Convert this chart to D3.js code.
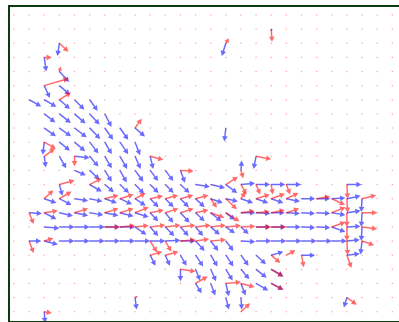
<!DOCTYPE html>
<html>
<head>
<meta charset="utf-8">
<script src="https://cdn.jsdelivr.net/npm/d3@7"></script>
<style>
  body { margin: 0; background: #fff; }
  svg { display: block; }
</style>
</head>
<body>
<svg id="chart" width="399" height="322"></svg>
<script>
// grid size (columns x rows of sample points)
const gridCols = d3.range(0, 26);
const gridRows = d3.range(0, 22);

// vectors as [col, row, u, v] in grid units (v points down)
const blueArrows = [
  [17, 1, 0.05, 0.15],
  [3, 2, -0.13, 0.9], [14, 2, -0.27, 0.9],
  [2, 3, 0.13, 1.0],
  [3, 4, 0.65, 0.75],
  [2, 5, 0.37, 0.87], [3, 5, 0.7, 0.64],
  [1, 6, 0.8, 0.47], [2, 6, 0.8, 0.5], [3, 6, 0.7, 0.65], [4, 6, 0.65, 0.7], [5, 6, 0.53, 0.78],
  [2, 7, 0.73, 0.6], [3, 7, 0.75, 0.64], [4, 7, 0.73, 0.68], [5, 7, 0.66, 0.75], [6, 7, 0.44, 0.92],
  [2, 8, 0.77, 0.59], [3, 8, 0.77, 0.59], [4, 8, 0.8, 0.66], [5, 8, 0.7, 0.78], [6, 8, 0.55, 0.83],
  [7, 8, 0.55, 0.83], [8, 8, 0.66, 0.6], [14, 8, -0.1, 0.95],
  [2, 9, -0.1, 0.9], [3, 9, 0.7, 0.6], [4, 9, 0.7, 0.65], [5, 9, 0.58, 0.8], [6, 9, 0.46, 0.85],
  [7, 9, 0.55, 0.85], [8, 9, 0.33, 0.92],
  [2, 10, 0.1, 0.8], [3, 10, 0.45, 0.85], [4, 10, 1.0, 0.1], [5, 10, 0.58, 0.73], [6, 10, 0.46, 0.85],
  [7, 10, 0.48, 0.9], [8, 10, 0.37, 0.9], [9, 10, 0.2, 0.9], [16, 10, -0.17, 0.9],
  [4, 11, 0.75, 0.35], [5, 11, 0.65, 0.65], [6, 11, 0.46, 0.8], [7, 11, 0.45, 0.85], [8, 11, 0.55, 0.8],
  [9, 11, 0.53, 0.75], [10, 11, 0.53, 0.75], [11, 11, 0.3, 0.87], [15, 11, 0.05, -0.7],
  [3, 12, 0.2, 0.8], [5, 12, 0.8, 0.5], [6, 12, 0.6, 0.55], [7, 12, 0.6, 0.6], [8, 12, 0.6, 0.65],
  [9, 12, 0.55, 0.6], [10, 12, 0.55, 0.6], [11, 12, 0.6, 0.6], [12, 12, 0.95, 0.15], [13, 12, 0.95, 0.25],
  [14, 12, 0.75, 0.6], [15, 12, 0.93, -0.1], [16, 12, 0.93, 0], [17, 12, 0.93, 0], [18, 12, 0.97, 0],
  [22, 12, 0.97, 0],
  [2, 13, 0.8, 0.3], [3, 13, 0.8, 0.45], [4, 13, 0.9, 0.15], [5, 13, 0.85, 0.2], [6, 13, 0.8, 0.3],
  [7, 13, 0.8, 0.4], [8, 13, 0.7, 0.5], [9, 13, 0.55, 0.6], [10, 13, 0.55, 0.6], [11, 13, 0.55, 0.6],
  [12, 13, 0.6, 0.6], [13, 13, 0.8, 0.3], [14, 13, 0.8, 0.2], [15, 13, 0.8, 0.3], [16, 13, 0.8, 0.3],
  [17, 13, 0.8, 0.3], [18, 13, 0.9, 0.2], [19, 13, 0.9, 0], [20, 13, 0.9, 0], [21, 13, 0.9, -0.05],
  [22, 13, 0.9, -0.2], [23, 13, -0.05, 0.95],
  [1, 14, 0.85, 0.05], [2, 14, 0.8, 0.45], [3, 14, 0.9, 0.22], [4, 14, 0.9, 0.2], [5, 14, 0.9, 0.15],
  [6, 14, 0.9, 0.2], [7, 14, 0.9, 0.25], [8, 14, 0.9, 0.3], [9, 14, 0.53, 0.6], [10, 14, 0.53, 0.7],
  [11, 14, 0.6, 0.7], [12, 14, 0.6, 0.6], [13, 14, 0.7, 0.6], [14, 14, 0.6, 0.5], [15, 14, 0.95, 0],
  [16, 14, 0.95, 0.05], [17, 14, 0.9, 0], [18, 14, 0.9, 0.05], [19, 14, 0.9, 0.05], [20, 14, 0.9, 0.05],
  [21, 14, 0.9, 0.15], [22, 14, 0.9, -0.15], [23, 14, -0.05, 1.0],
  [2, 15, 1.0, 0.1], [3, 15, 1.0, 0], [4, 15, 1.0, 0], [5, 15, 1.0, 0], [6, 15, 1.0, 0], [7, 15, 1.0, 0],
  [8, 15, 0.75, 0.55], [9, 15, 0.53, 0.65], [10, 15, 0.6, 0.65], [11, 15, 0.53, 0.65], [12, 15, 0.5, 0.65],
  [13, 15, 0.6, 0.55], [14, 15, 0.6, 0.45], [15, 15, 0.5, 0.5], [16, 15, 0.95, 0], [17, 15, 0.95, 0],
  [18, 15, 0.95, 0], [19, 15, 0.9, 0.05], [20, 15, 0.9, 0.05], [21, 15, 0.9, 0.35], [22, 15, 0.9, -0.05],
  [23, 15, -0.05, 1.0],
  [1, 16, 0.8, 0], [2, 16, 0.9, 0.25], [3, 16, 1.0, 0], [4, 16, 1.0, 0], [5, 16, 1.0, 0], [6, 16, 1.0, 0],
  [7, 16, 1.0, 0], [8, 16, 1.0, 0], [9, 16, 1.0, 0], [10, 16, 1.0, -0.05], [11, 16, 1.0, 0],
  [12, 16, 0.6, 0.7], [13, 16, 0.5, 0.7], [14, 16, 0.5, 0.7], [15, 16, 0.95, 0.05], [16, 16, 1.0, 0],
  [17, 16, 1.0, 0], [18, 16, 1.0, 0], [19, 16, 1.0, 0], [20, 16, 1.0, 0], [21, 16, 1.0, 0],
  [22, 16, 0.85, -0.1], [23, 16, -0.1, 0.95],
  [9, 17, 0.35, 0.75], [10, 17, 0.3, 0.75], [11, 17, 0.4, 0.75], [12, 17, 0.5, 0.8], [13, 17, 0.45, 0.8],
  [14, 17, 0.5, 0.8], [15, 17, 0.5, 0.75], [16, 17, 0.65, 0.65], [17, 17, 0.8, -0.25], [19, 17, 0.9, 0],
  [22, 17, 0.85, -0.1],
  [11, 18, 0, 0.85], [12, 18, 0.3, 0.8], [13, 18, 0.35, 0.85], [14, 18, 0.45, 0.8], [15, 18, 0.55, 0.7],
  [16, 18, 0.7, 0.6], [17, 18, 0.8, 0.5],
  [12, 19, 0.4, 0.7], [13, 19, 0.3, 0.85], [14, 19, 0.2, 0.9], [15, 19, 0.3, 0.85], [16, 19, 0.8, 0.5],
  [17, 19, 0.8, 0.45],
  [8, 20, 0.1, 0.85], [14, 20, 0.2, 0.85], [15, 20, 0.05, 0.85], [22, 20, -0.2, 0.7],
  [2, 21, 0.05, 0.8]
];

const redArrows = [
  [17, 1, 0.05, 0.9],
  [3, 2, 0.6, 0.6], [14, 2, 0.2, -0.35],
  [2, 3, 0.5, 0],
  [3, 4, 0.1, -0.35],
  [2, 5, 1.6, -0.5],
  [3, 6, 0.77, -0.52],
  [8, 8, 0.44, -0.66],
  [2, 9, 0.77, 0.47],
  [2, 10, 0.7, -0.55], [4, 10, 0, 0.7], [9, 10, 0.87, 0.25], [16, 10, 1.0, 0.2],
  [11, 11, 0.87, 0.05], [15, 11, 0.15, 0.55],
  [3, 12, 1.0, -0.3], [5, 12, 0.8, -0.45], [14, 12, 0.8, -0.55], [15, 12, 0.37, 0.7], [16, 12, 0.27, 0.7],
  [17, 12, 0.1, 0.7], [18, 12, 0.25, 0.7], [22, 12, 0.05, 1.0],
  [2, 13, 0.6, -0.6], [3, 13, 0.8, -0.5], [6, 13, 0.9, -0.25], [7, 13, 0.9, -0.3], [8, 13, 0.7, -0.4],
  [9, 13, 0.85, -0.2], [10, 13, 0.85, -0.25], [11, 13, 0.85, -0.25], [12, 13, 0.85, -0.25],
  [13, 13, 0.4, 0.65], [14, 13, 0.73, 0.75], [15, 13, 0.3, -0.5], [16, 13, 0.9, -0.3], [17, 13, 0.9, -0.35],
  [18, 13, 0.8, -0.4], [20, 13, 0.9, -0.15], [21, 13, 0.87, 0.45], [22, 13, 0.05, 1.0], [23, 13, 0.93, -0.25],
  [1, 14, 0.3, 0.8], [2, 14, 0.9, -0.15], [4, 14, 0.9, -0.3], [6, 14, 0.9, -0.3], [7, 14, 0.9, -0.3],
  [8, 14, 0.9, -0.4], [9, 14, 0.9, -0.2], [10, 14, 0.87, -0.3], [11, 14, 0.87, -0.3], [12, 14, 0.85, -0.2],
  [13, 14, 0.9, 0.35], [14, 14, 0.9, 0.6], [15, 14, 0.9, -0.15], [16, 14, 0.9, -0.1], [17, 14, 0.9, -0.2],
  [18, 14, 0.85, -0.3], [21, 14, 0.9, -0.4], [22, 14, 0, 1.0], [23, 14, 1.0, 0],
  [6, 15, 1.0, 0], [7, 15, 1.0, -0.1], [8, 15, 0.9, -0.1], [9, 15, 1.0, -0.13], [10, 15, 1.0, -0.13],
  [11, 15, 1.0, -0.12], [12, 15, 1.0, -0.12], [13, 15, 1.0, -0.12], [14, 15, 1.0, -0.1], [15, 15, 0.95, -0.05],
  [16, 15, 1.0, 0], [17, 15, 1.0, 0], [21, 15, 0.9, -0.35], [22, 15, 0, 1.0], [23, 15, 1.0, 0.15],
  [1, 16, 0.3, 0.85], [2, 16, 0.6, -0.2], [9, 16, 0.45, 0.8], [10, 16, 0.4, 0.75], [11, 16, 1.0, -0.1],
  [12, 16, 0.9, -0.15], [13, 16, 1.0, -0.1], [22, 16, 0.05, 1.0], [23, 16, 0.8, 0.3],
  [9, 17, 0.8, -0.25], [10, 17, 0.87, -0.25], [17, 17, 0.6, 0.55], [18, 17, 0.6, -0.35], [19, 17, 0.15, 0.85],
  [22, 17, 0.3, 0.9],
  [11, 18, 1.0, 0.15], [17, 18, 0.8, 0.5],
  [12, 19, 0.8, -0.5], [14, 19, 1.0, -0.1], [15, 19, 0.9, 0.25], [17, 19, 0.8, 0.45],
  [8, 20, 0.2, -0.1], [22, 20, 0.65, 0.5],
  [2, 21, 0.5, 0.1], [15, 21, 0.6, -0.6]
];

const svg = d3.select('#chart');

const x = d3.scaleLinear().domain([0, 25]).range([14, 392.3]);
const y = d3.scaleLinear().domain([0, 21]).range([15, 311.7]);

// quiver-style arrow outline
function arrowPath(d) {
  const [c, r, u, v] = d;
  const x0 = x(c), y0 = y(r), x1 = x(c + u), y1 = y(r + v);
  const dx = x1 - x0, dy = y1 - y0;
  const len = Math.hypot(dx, dy);
  if (len < 0.5) return '';
  const ux = dx / len, uy = dy / len;
  const nx = -uy, ny = ux;
  let hl = 5.2, hw = 2.8;
  const sw = 0.75;
  if (len < hl * 1.3) {
    const k = len / (hl * 1.3);
    hl *= k;
    hw = Math.max(hw * k, 1.3);
  }
  const bx = x1 - ux * hl, by = y1 - uy * hl;
  const pts = [
    [x0 + nx * sw, y0 + ny * sw],
    [bx + nx * sw, by + ny * sw],
    [bx + nx * hw, by + ny * hw],
    [x1, y1],
    [bx - nx * hw, by - ny * hw],
    [bx - nx * sw, by - ny * sw],
    [x0 - nx * sw, y0 - ny * sw]
  ];
  return 'M' + pts.map((p) => p[0].toFixed(2) + ',' + p[1].toFixed(2)).join('L') + 'Z';
}

// grid dots
const cells = gridRows.flatMap((r) => gridCols.map((c) => [c, r]));
svg.append('g')
  .selectAll('rect')
  .data(cells)
  .join('rect')
  .attr('x', (d) => x(d[0]) - 0.6)
  .attr('y', (d) => y(d[1]) - 0.6)
  .attr('width', 1.2)
  .attr('height', 1.2)
  .attr('fill', '#ff0000')
  .attr('fill-opacity', 0.4);

svg.append('g')
  .selectAll('path')
  .data(blueArrows)
  .join('path')
  .attr('d', arrowPath)
  .attr('fill', '#0000ff')
  .attr('fill-opacity', 0.58);

svg.append('g')
  .selectAll('path')
  .data(redArrows)
  .join('path')
  .attr('d', arrowPath)
  .attr('fill', '#ff0000')
  .attr('fill-opacity', 0.58);

// frame
svg.append('rect')
  .attr('x', 9)
  .attr('y', 6)
  .attr('width', 430)
  .attr('height', 316)
  .attr('fill', 'none')
  .attr('stroke', '#0b3a0b')
  .attr('stroke-width', 2);
</script>
</body>
</html>
